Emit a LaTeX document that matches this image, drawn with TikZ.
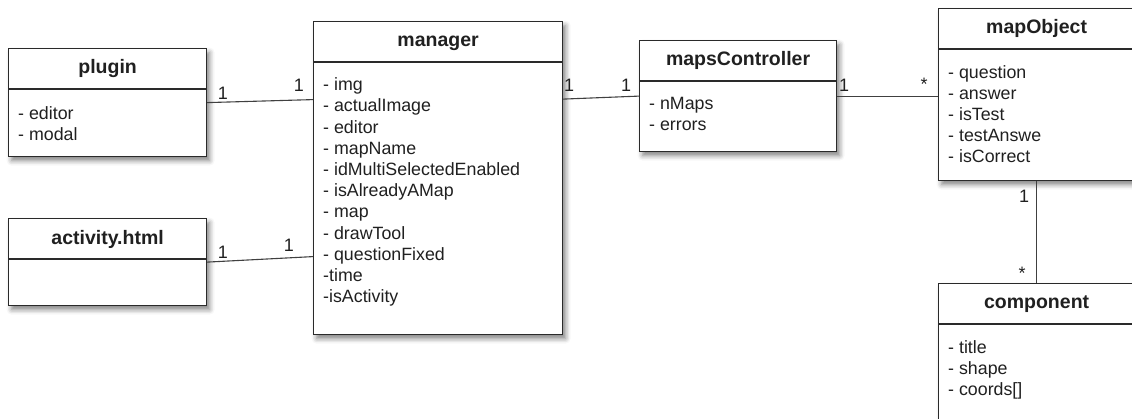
\documentclass[tikz,border=0pt]{standalone}
\usepackage{fontspec}
\setmainfont{Liberation Sans}
\usetikzlibrary{shadows.blur}
\definecolor{boxline}{HTML}{2A2A2A}
\definecolor{txt}{HTML}{202020}
\tikzset{
  umlbox/.style={draw=boxline, line width=1.2pt, fill=white, rectangle, anchor=north west, inner sep=0pt,
    blur shadow={shadow xshift=3pt, shadow yshift=-4pt, shadow blur radius=5pt, shadow opacity=50}},
  clstitle/.style={font=\fontsize{19.5}{23}\selectfont\bfseries, anchor=mid, text=txt, inner sep=0pt},
  attr/.style={font=\fontsize{17.8}{21}\selectfont, anchor=mid west, text=txt, inner sep=0pt},
  mult/.style={font=\fontsize{18}{22}\selectfont, anchor=center, text=txt, inner sep=0pt},
  assoc/.style={draw=black!75, line width=1.1pt},
  divider/.style={draw=boxline, line width=1.2pt},
}
\begin{document}
\begin{tikzpicture}[x=1pt,y=-1pt]
\useasboundingbox (0,0) rectangle (1132,418);
\clip (0,0) rectangle (1132,418);

% boxes
\node[umlbox, minimum width=198pt, minimum height=108pt] (plugin) at (8,48) {};
\node[umlbox, minimum width=249pt, minimum height=313pt] (manager) at (313,21) {};
\node[umlbox, minimum width=197pt, minimum height=111pt] (maps) at (639,40) {};
\node[umlbox, minimum width=196pt, minimum height=172pt] (mapObject) at (938,8) {};
\node[umlbox, minimum width=196pt, minimum height=170pt] (component) at (938,283) {};
\node[umlbox, minimum width=198pt, minimum height=87pt] (activity) at (8,218) {};

% dividers
\foreach \b in {plugin,manager,maps,mapObject,component,activity}{
  \draw[divider] ([yshift=-41pt]\b.north west) -- ([yshift=-41pt]\b.north east);
}

% titles
\node[clstitle] (plugin-t) at ([yshift=-23pt]plugin.north) {plugin};
\node[clstitle] (manager-t) at ([yshift=-23pt]manager.north) {manager};
\node[clstitle] (maps-t) at ([yshift=-23pt]maps.north) {mapsController};
\node[clstitle] (mapObject-t) at ([yshift=-23pt]mapObject.north) {mapObject};
\node[clstitle] (component-t) at ([yshift=-23pt]component.north) {component};
\node[clstitle] (activity-t) at ([yshift=-24pt]activity.north) {activity.html};

% attributes
\foreach \t [count=\i from 0] in {- editor,- modal}
  \node[attr] (plugin-a\i) at ([xshift=10pt,yshift=-69pt-21*\i pt]plugin.north west) {\t};
\foreach \t [count=\i from 0] in {- img,- actualImage,- editor,- mapName,- idMultiSelectedEnabled,- isAlreadyAMap,- map,- drawTool,- questionFixed,-time,-isActivity}
  \node[attr] (manager-a\i) at ([xshift=10pt,yshift=-67pt-21.2*\i pt]manager.north west) {\t};
\foreach \t [count=\i from 0] in {- nMaps,- errors}
  \node[attr] (maps-a\i) at ([xshift=10pt,yshift=-67pt-21*\i pt]maps.north west) {\t};
\foreach \t [count=\i from 0] in {- question,- answer,- isTest,- testAnswe,- isCorrect}
  \node[attr] (mapObject-a\i) at ([xshift=10pt,yshift=-68pt-21*\i pt]mapObject.north west) {\t};
\foreach \t [count=\i from 0] in {- title,- shape,- coords[]}
  \node[attr] (component-a\i) at ([xshift=10pt,yshift=-68pt-21*\i pt]component.north west) {\t};

% associations
\draw[assoc] (plugin.east) -- ([yshift=3pt]plugin.east -| manager.west);
\draw[assoc] (activity.east) -- ([yshift=5.5pt]activity.east -| manager.west);
\draw[assoc] ([yshift=-3pt]maps.west -| manager.east) -- (maps.west);
\draw[assoc] (maps.east) -- (maps.east -| mapObject.west);
\draw[assoc] (mapObject.south) -- (component.north);

% multiplicities
\node[mult] (m1) at (223,93) {1};
\node[mult] (m2) at (299,85) {1};
\node[mult] (m3) at (223,252) {1};
\node[mult] (m4) at (289,245) {1};
\node[mult] (m5) at (569,85) {1};
\node[mult] (m6) at (626,85) {1};
\node[mult] (m7) at (844,85) {1};
\node[mult] (m8) at (924,84) {*};
\node[mult] (m9) at (1024,196) {1};
\node[mult] (m10) at (1022,273) {*};
\end{tikzpicture}
\end{document}
